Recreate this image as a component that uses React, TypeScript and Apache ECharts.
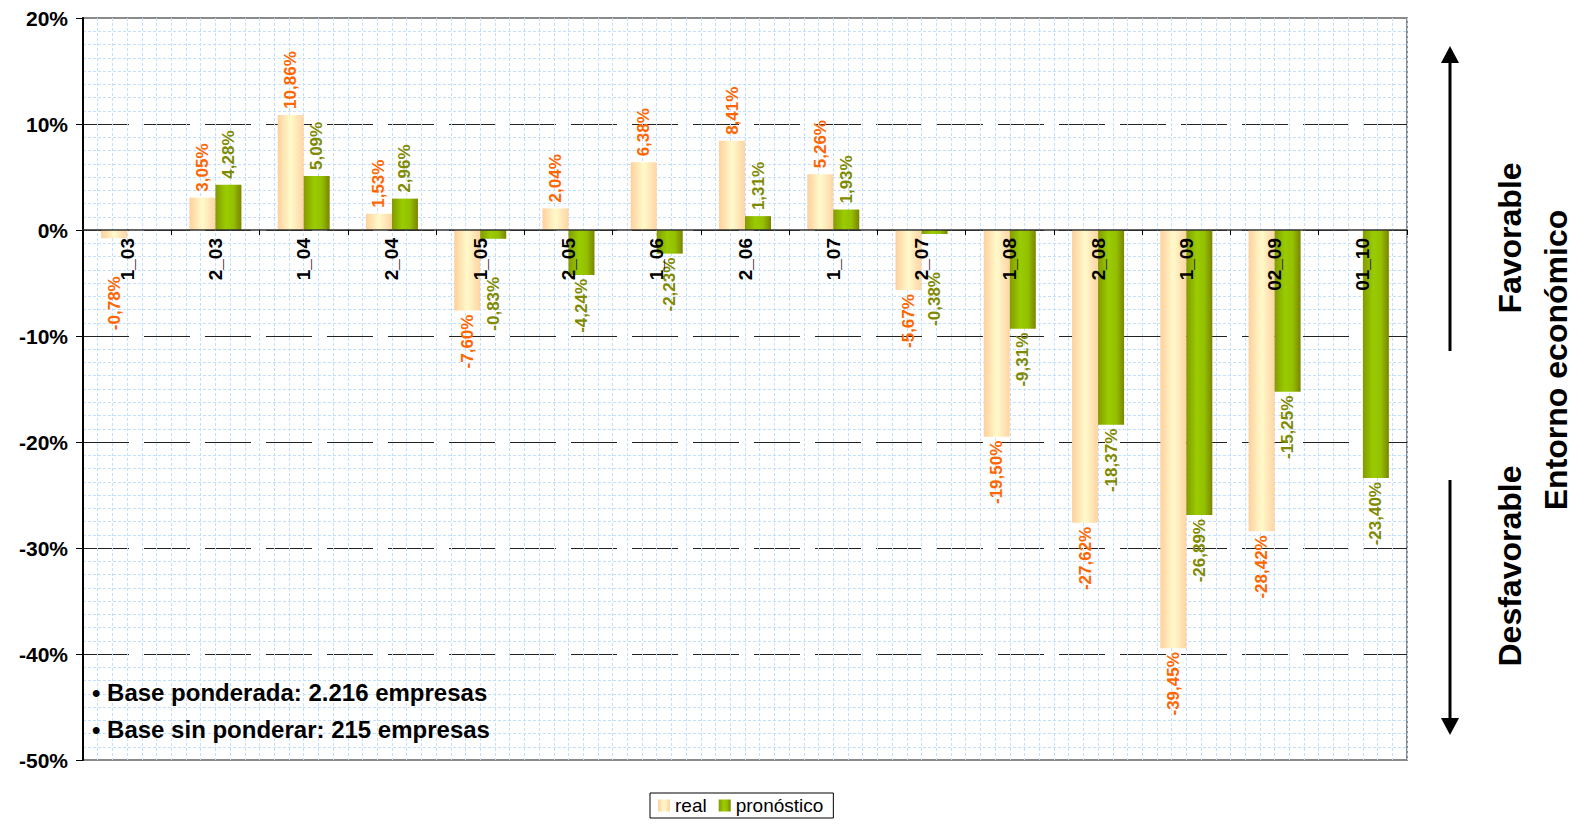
import React, { useEffect, useRef } from "react";
import * as echarts from "echarts";

const categories = ["1_03", "2_03", "1_04", "2_04", "1_05", "2_05", "1_06", "2_06", "1_07", "2_07", "1_08", "2_08", "1_09", "02_09", "01_10"];
const realValues: (number | null)[] = [-0.78, 3.05, 10.86, 1.53, -7.6, 2.04, 6.38, 8.41, 5.26, -5.67, -19.5, -27.62, -39.45, -28.42, null];
const pronosticoValues: (number | null)[] = [null, 4.28, 5.09, 2.96, -0.83, -4.24, -2.23, 1.31, 1.93, -0.38, -9.31, -18.37, -26.89, -15.25, -23.4];
const yMin = -50;
const yMax = 20;
const yInterval = 10;
const notes = ["• Base ponderada: 2.216 empresas", "• Base sin ponderar: 215 empresas"];

const FONT = "'Liberation Sans', Arial, Helvetica, sans-serif";
const MINOR_PER_CATEGORY = 6;
const W = 1575;
const H = 824;
const GRID = { left: 83, right: 168, top: 18, bottom: 64 };

const fmt = (v: number) => v.toFixed(2).replace(".", ",") + "%";

function labelFor(v: number, color: string) {
  const base = {
    show: true,
    rotate: 90,
    verticalAlign: "middle",
    color,
    fontFamily: FONT,
    fontWeight: "bold",
    fontSize: 17,
    formatter: () => fmt(v),
  };
  if (v >= 0) return { ...base, position: "top", align: "left", distance: 6 };
  return { ...base, position: "bottom", align: "right", distance: Math.abs(v) < 1 ? 38 : 4 };
}

const realColor = {
  type: "linear", x: 0, y: 0, x2: 1, y2: 0,
  colorStops: [
    { offset: 0, color: "#FFD09C" },
    { offset: 0.5, color: "#FFFACB" },
    { offset: 1, color: "#FFD4A4" },
  ],
};
const pronColor = {
  type: "linear", x: 0, y: 0, x2: 1, y2: 0,
  colorStops: [
    { offset: 0, color: "#849A00" },
    { offset: 0.4, color: "#99CC00" },
    { offset: 0.7, color: "#94C000" },
    { offset: 1, color: "#7A8400" },
  ],
};

export default function App() {
  const ref = useRef<HTMLDivElement>(null);
  useEffect(() => {
    if (!ref.current) return;
    const chart = echarts.init(ref.current, undefined, { renderer: "svg" });
    const mk = (vals: (number | null)[], color: string) =>
      vals.map((v) => (v == null ? null : { value: v, label: labelFor(v, color) }));

    // place the category axis on the zero line of the value scale
    const plotH = H - GRID.top - GRID.bottom;
    const zeroOffset = -plotH * (0 - yMin) / (yMax - yMin);

    const option: any = {
      animation: false,
      backgroundColor: "#ffffff",
      grid: {
        ...GRID,
        show: true, borderColor: "#8a8a8a", borderWidth: 2, backgroundColor: "#ffffff",
      },
      legend: {
        data: ["real", "pronóstico"],
        left: 650, top: 793,
        icon: "rect", itemWidth: 12, itemHeight: 12, itemGap: 12,
        padding: [3, 10, 3, 8],
        borderColor: "#000", borderWidth: 1,
        textStyle: { fontFamily: FONT, fontSize: 19, color: "#000" },
      },
      xAxis: [
        {
          type: "category",
          data: categories,
          z: 10,
          offset: zeroOffset,
          axisLine: { onZero: false, lineStyle: { color: "#333", width: 1.5 } },
          axisTick: { show: true, length: 5, lineStyle: { color: "#000" } },
          axisLabel: {
            interval: 0, rotate: 90, margin: 8,
            fontFamily: FONT, fontWeight: "bold", fontSize: 19, color: "#000",
          },
          splitLine: { show: false },
        },
        {
          type: "value",
          position: "top",
          min: 0,
          max: categories.length * MINOR_PER_CATEGORY,
          interval: 1,
          axisLine: { show: false },
          axisTick: { show: false },
          axisLabel: { show: false },
          splitLine: { show: true, lineStyle: { color: "#C2DFFF", type: [3, 2], width: 1 } },
        },
      ],
      yAxis: {
        type: "value",
        min: yMin, max: yMax, interval: yInterval,
        axisLine: { show: true, onZero: false, lineStyle: { color: "#000", width: 2 } },
        axisTick: { show: true, length: 7, lineStyle: { color: "#000" } },
        axisLabel: {
          margin: 15,
          formatter: (v: number) => v + "%",
          fontFamily: FONT, fontWeight: "bold", fontSize: 21, color: "#000",
        },
        splitLine: {
          show: true, showMinLine: false, showMaxLine: false,
          lineStyle: { color: "#222", type: [46, 15], width: 1 },
        },
        minorTick: { show: false, splitNumber: 8 },
        minorSplitLine: { show: true, lineStyle: { color: "#C2DFFF", type: [3, 2], width: 1 } },
      },
      series: [
        {
          name: "real",
          type: "bar",
          xAxisIndex: 0,
          barWidth: 26,
          barGap: "0%",
          itemStyle: { color: realColor },
          data: mk(realValues, "#FF6600"),
        },
        {
          name: "pronóstico",
          type: "bar",
          xAxisIndex: 0,
          barWidth: 26,
          barGap: "0%",
          itemStyle: { color: pronColor },
          data: mk(pronosticoValues, "#7F8A00"),
        },
      ],
      graphic: [
        ...notes.map((t, i) => ({
          type: "text",
          left: 92,
          top: 680 + i * 37,
          z: 20,
          style: { text: t, fontFamily: FONT, fontWeight: "bold", fontSize: 24, fill: "#000" },
        })),
        // arrows
        { type: "line", shape: { x1: 1450, y1: 60, x2: 1450, y2: 351 }, style: { stroke: "#000", lineWidth: 3 } },
        { type: "polygon", shape: { points: [[1450, 46], [1441, 63], [1459, 63]] }, style: { fill: "#000" } },
        { type: "line", shape: { x1: 1450, y1: 480, x2: 1450, y2: 722 }, style: { stroke: "#000", lineWidth: 3 } },
        { type: "polygon", shape: { points: [[1450, 735], [1441, 718], [1459, 718]] }, style: { fill: "#000" } },
        {
          type: "text", x: 1510, y: 238, rotation: Math.PI / 2,
          style: { text: "Favorable", align: "center", verticalAlign: "middle", lineHeight: 30, fontFamily: FONT, fontWeight: "bold", fontSize: 32, fill: "#000" },
        },
        {
          type: "text", x: 1510, y: 566, rotation: Math.PI / 2,
          style: { text: "Desfavorable", align: "center", verticalAlign: "middle", lineHeight: 30, fontFamily: FONT, fontWeight: "bold", fontSize: 32, fill: "#000" },
        },
        {
          type: "text", x: 1556, y: 360, rotation: Math.PI / 2,
          style: { text: "Entorno económico", align: "center", verticalAlign: "middle", lineHeight: 30, fontFamily: FONT, fontWeight: "bold", fontSize: 32, fill: "#000" },
        },
      ],
    };
    chart.setOption(option);
    return () => chart.dispose();
  }, []);
  return <div ref={ref} style={{ position: "fixed", left: 0, top: 0, width: W, height: H }} />;
}
